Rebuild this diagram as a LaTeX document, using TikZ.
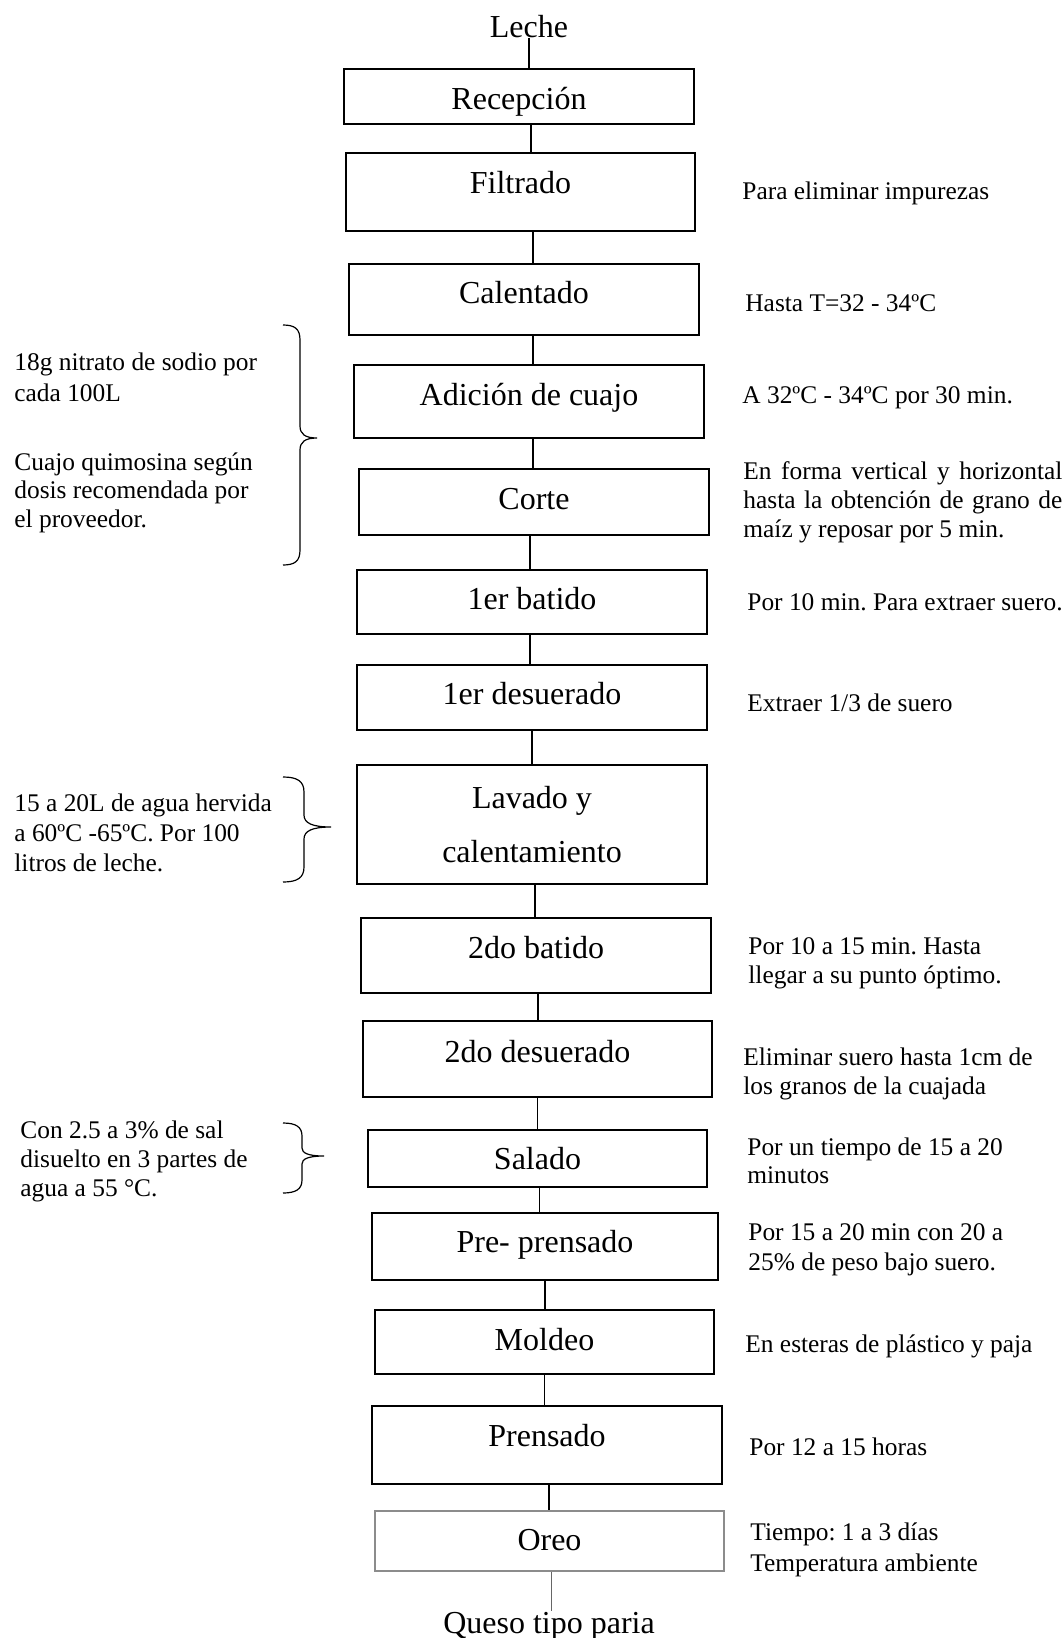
\documentclass[tikz,border=0pt]{standalone}
\usepackage{fontspec}
\setmainfont{Liberation Serif}
\frenchspacing
\newcommand\boxfont{\fontsize{16pt}{19pt}\selectfont}
\newcommand\sidefont{\fontsize{12.7pt}{14.75pt}\selectfont}
\newcommand\justfont{\fontsize{12.7pt}{14.5pt}\selectfont\tolerance 10000\relax\hbadness 10000\relax}
\newcommand\flowbox[8][]{%
  \pgfmathsetmacro\fbw{(#4-#3)*0.5}%
  \pgfmathsetmacro\fbh{(#7-#5)*0.5}%
  \pgfmathsetmacro\fbd{(#6-#7)*0.5}%
  \pgfmathsetmacro\fbx{(#3+#4)/2}%
  \pgfmathsetmacro\fby{(#5+#6)/2}%
  \node[stepbox, minimum width=\fbw pt, text height=\fbh pt, text depth=\fbd pt, #1] (#2) at (\fbx,\fby) {#8};}
\newcommand\connect[3]{\draw[conn] ([xshift=#3]#1.south) -- ([xshift=#3]#1.south |- #2.north);}
\begin{document}
\begin{tikzpicture}[x=0.5pt, y=-0.5pt,
  stepbox/.style={draw, line width=1pt, inner ysep=0pt, inner xsep=2pt, font=\boxfont},
  lightbox/.style={draw=black!45, line width=0.7pt},
  sidetext/.style={anchor=base west, align=left, inner sep=0pt, font=\sidefont},
  endtext/.style={anchor=base, inner sep=0pt, font=\boxfont},
  conn/.style={line width=0.6pt},
  bracepath/.style={line width=0.6pt}]
\useasboundingbox (0,0) rectangle (1064,1638);

% terminal texts
\node[endtext] (leche) at (529,37) {Leche};
\node[endtext] (queso) at (549,1633) {Queso tipo paria};

% process boxes
\flowbox{rec}{344}{694}{69}{124}{109}{Recepción}
\flowbox{fil}{346}{695}{153}{231}{193}{Filtrado}
\flowbox{cal}{349}{699}{264}{335}{303}{Calentado}
\flowbox{adi}{354}{704}{365}{438}{405}{Adición de cuajo}
\flowbox{cor}{359}{709}{469}{535}{509}{Corte}
\flowbox{bat1}{357}{707}{570}{634}{609}{1er batido}
\flowbox{des1}{357}{707}{665}{730}{704}{1er desuerado}
\node[stepbox, align=center, font=\fontsize{16pt}{27pt}\selectfont,
      minimum width=175pt, minimum height=59.5pt] (lav) at (532,824.5) {Lavado y\\calentamiento};
\flowbox{bat2}{361}{711}{918}{993}{958}{2do batido}
\flowbox{des2}{363}{712}{1021}{1097}{1062}{2do desuerado}
\flowbox{sal}{368}{707}{1130}{1187}{1169}{Salado}
\flowbox{pre}{372}{718}{1213}{1280}{1252}{Pre- prensado}
\flowbox{mol}{375}{714}{1310}{1374}{1350}{Moldeo}
\flowbox{pren}{372}{722}{1406}{1484}{1446}{Prensado}
\flowbox[lightbox]{oreo}{375}{724}{1511}{1571}{1550}{Oreo}

% connectors
\draw[conn] (leche.south) -- (leche.south |- rec.north);
\connect{rec}{fil}{6pt}
\connect{fil}{cal}{6.25pt}
\connect{cal}{adi}{4.5pt}
\connect{adi}{cor}{2pt}
\connect{cor}{bat1}{-2pt}
\connect{bat1}{des1}{-1pt}
\connect{des1}{lav}{0pt}
\connect{lav}{bat2}{1.5pt}
\connect{bat2}{des2}{1pt}
\connect{des2}{sal}{0pt}
\connect{sal}{pre}{1pt}
\connect{pre}{mol}{0pt}
\connect{mol}{pren}{0pt}
\connect{pren}{oreo}{1pt}
\draw[conn, draw=black!60] ([xshift=1pt]oreo.south) -- ([xshift=1pt]oreo.south |- queso.north);

% right-hand notes (multi-line: anchor at last baseline)
\node[sidetext] (n1) at (742,199) {Para eliminar impurezas};
\node[sidetext] (n2) at (745,311) {Hasta T=32 - 34ºC};
\node[sidetext] (n3) at (742,403) {A 32ºC - 34ºC por 30 min.};
\node[sidetext, align=justify, text width=159.5pt, font=\justfont]
  (n4) at (743,479) {En forma vertical y horizontal\linebreak hasta la obtención de grano de\linebreak maíz y reposar por 5 min.};
\node[sidetext] (n5) at (747,610) {Por 10 min. Para extraer suero.};
\node[sidetext] (n6) at (747,711) {Extraer 1/3 de suero};
\node[sidetext, font=\fontsize{12.7pt}{14.5pt}\selectfont] (n7) at (748,983) {Por 10 a 15 min. Hasta\\llegar a su punto óptimo.};
\node[sidetext, font=\fontsize{12.7pt}{14.5pt}\selectfont] (n8) at (743,1094) {Eliminar suero hasta 1cm de\\los granos de la cuajada};
\node[sidetext, font=\fontsize{12.7pt}{14pt}\selectfont] (n9) at (747,1183) {Por un tiempo de 15 a 20\\minutos};
\node[sidetext, font=\fontsize{12.7pt}{15pt}\selectfont] (n10) at (748,1270) {Por 15 a 20 min con 20 a\\25\% de peso bajo suero.};
\node[sidetext] (n11) at (745,1352) {En esteras de plástico y paja};
\node[sidetext] (n12) at (749,1455) {Por 12 a 15 horas};
\node[sidetext, font=\fontsize{12.7pt}{15.5pt}\selectfont] (n13) at (750,1571) {Tiempo: 1 a 3 días\\Temperatura ambiente};

% left-hand notes
\node[sidetext, font=\fontsize{12.7pt}{15.5pt}\selectfont] (l1) at (14,401) {18g nitrato de sodio por\\cada 100L};
\node[sidetext, font=\fontsize{12.7pt}{14.25pt}\selectfont] (l2) at (14,527) {Cuajo quimosina según\\dosis recomendada por\\el proveedor.};
\node[sidetext, font=\fontsize{12.7pt}{15pt}\selectfont] (l3) at (14,871) {15 a 20L de agua hervida\\a 60ºC -65ºC. Por 100\\litros de leche.};
\node[sidetext, font=\fontsize{12.7pt}{14.5pt}\selectfont] (l4) at (20,1196) {Con 2.5 a 3\% de sal\\disuelto en 3 partes de\\agua a 55 °C.};

% braces
\draw[bracepath] (283,325) .. controls (295,325) and (300,329) .. (300,340) -- (300,426)
  .. controls (300,434) and (305,438) .. (317,438) .. controls (305,438) and (300,442) .. (300,450)
  -- (300,550) .. controls (300,561) and (295,565) .. (283,565);
\draw[bracepath] (283,777) .. controls (297,777) and (304,781) .. (304,792) -- (304,815)
  .. controls (304,823) and (312,827) .. (331,827) .. controls (312,827) and (304,831) .. (304,839)
  -- (304,867) .. controls (304,878) and (297,882) .. (283,882);
\draw[bracepath] (283,1123) .. controls (296,1123) and (302,1127) .. (302,1136) -- (302,1148)
  .. controls (302,1153) and (308,1156) .. (324,1156) .. controls (308,1156) and (302,1159) .. (302,1164)
  -- (302,1180) .. controls (302,1189) and (296,1193) .. (283,1193);
\end{tikzpicture}
\end{document}
